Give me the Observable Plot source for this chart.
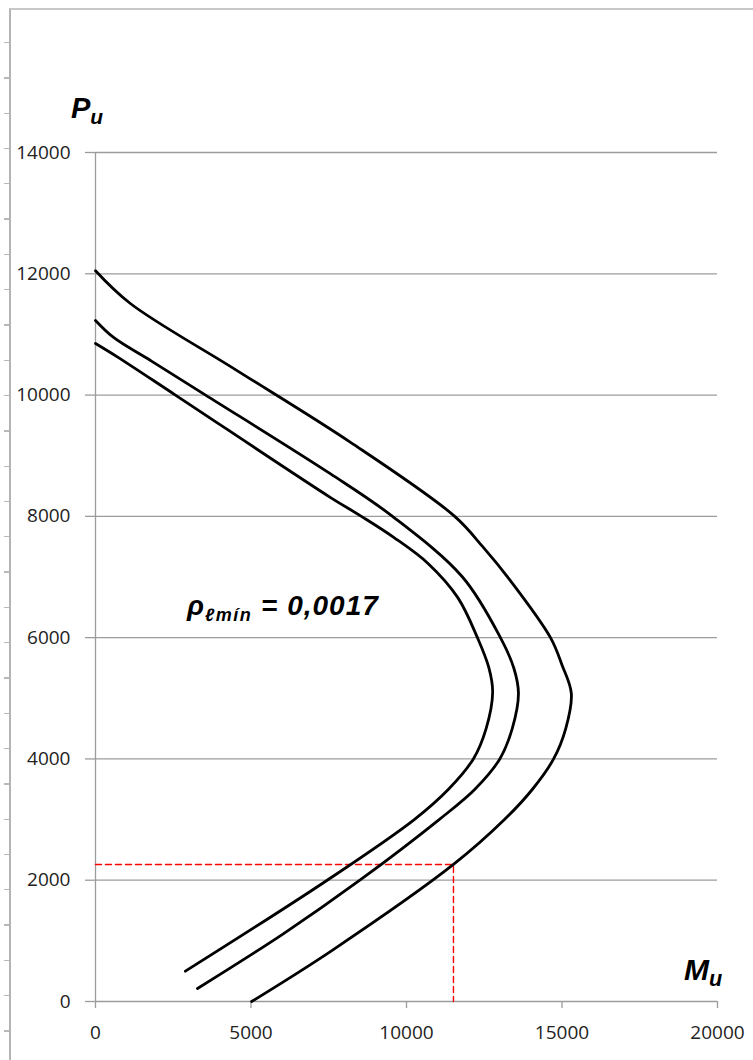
<!DOCTYPE html>
<html>
<head>
<meta charset="utf-8">
<script src="https://cdn.jsdelivr.net/npm/d3@7"></script>
<script src="https://cdn.jsdelivr.net/npm/@observablehq/plot@0.6"></script>
<style>
  html, body { margin: 0; padding: 0; background: #fff; }
  #wrap { position: relative; width: 753px; height: 1060px; overflow: hidden; background: #fff; }
  #border { position: absolute; left: 9px; top: 8px; right: -4px; bottom: -4px;
            border-left: 2px solid #b4b4b4; border-top: 2px solid #c8c8c8; }
  #rowticks { position: absolute; left: 4px; top: 8px; width: 5px; height: 1052px;
              background: repeating-linear-gradient(to bottom, transparent 0px, transparent 34px, #b8b8b8 34px, #b8b8b8 35.3px); }
  #chart { position: absolute; left: 0; top: 0; }
  .lbl { position: absolute; font-family: "Liberation Sans", Arial, sans-serif; font-weight: bold; font-style: italic; color: #000; white-space: nowrap; line-height: 1; }
  .lbl sub { font-size: 0.72em; vertical-align: -0.28em; }
</style>
</head>
<body>
<div id="wrap">
  <div id="rowticks"></div>
  <div id="border"></div>
  <div id="chart"></div>
  <div class="lbl" style="left:71px; top:94px; font-size:29px;">P<sub>u</sub></div>
  <div class="lbl" style="left:684px; top:955px; font-size:30px;">M<sub>u</sub></div>
  <div class="lbl" style="left:187px; top:592px; font-size:28px; letter-spacing:1px;">ρ<sub style="font-size:18px;vertical-align:-6px;letter-spacing:1.5px;">ℓmín</sub> = 0,0017</div>
</div>
<script>
// Axis ticks
const xTicks = [0, 5000, 10000, 15000, 20000];
const yTicks = [0, 2000, 4000, 6000, 8000, 10000, 12000, 14000];

// Outer curve (Mu, Pu)
const outerM = [0, 1120, 4500, 8200, 11550, 12450, 13340, 14630, 15000, 15300, 15120, 14730, 14050, 13150, 11510, 7600, 5020];
const outerP = [12050, 11510, 10420, 9220, 8000, 7500, 6940, 6000, 5550, 5080, 4500, 4000, 3500, 3000, 2260, 840, 0];

// Middle curve
const middleM = [0, 580, 1770, 3540, 7560, 9550, 11800, 13020, 13450, 13600, 13400, 13000, 12200, 11050, 8500, 6050, 3280];
const middleP = [11230, 10950, 10570, 10000, 8700, 8000, 7000, 6000, 5500, 5080, 4500, 4000, 3500, 3000, 2000, 1120, 215];

// Inner curve
const innerM = [0, 700, 2570, 7560, 8550, 9600, 10700, 11650, 12280, 12650, 12770, 12560, 12150, 11350, 10250, 7450, 2890];
const innerP = [10850, 10630, 10000, 8310, 8000, 7650, 7220, 6660, 6000, 5500, 5100, 4500, 4000, 3500, 3000, 2000, 500];

// Red dashed read-out
const readM = [0, 11510, 11510];
const readP = [2260, 2260, 0];

const toRows = (name, M, P) => M.map((m, i) => ({curve: name, M: m, P: P[i]}));
const curves = [
  ...toRows("outer", outerM, outerP),
  ...toRows("middle", middleM, middleP),
  ...toRows("inner", innerM, innerP)
];
const readout = toRows("read", readM, readP);

const gridColor = "#9c9c9c";
const fmt = d => String(d);

const chart = Plot.plot({
  width: 753,
  height: 1060,
  marginLeft: 95,
  marginRight: 36,
  marginTop: 152,
  marginBottom: 59,
  style: { fontFamily: "'Open Sans', sans-serif", fontSize: "19px", background: "transparent", overflow: "visible" },
  x: { domain: [0, 20000], label: null, axis: null },
  y: { domain: [0, 14000], label: null, axis: null },
  marks: [
    Plot.ruleY(yTicks, { stroke: gridColor, strokeWidth: 1.3 }),
    Plot.ruleX([0], { stroke: gridColor, strokeWidth: 1.3 }),
    Plot.axisX(xTicks, { tickSize: 7, tickPadding: 17, stroke: gridColor, strokeWidth: 1.3, fill: "#222", tickFormat: fmt, label: null }),
    Plot.axisY(yTicks, { tickSize: 10, tickPadding: 15, stroke: gridColor, strokeWidth: 1.3, fill: "#222", tickFormat: fmt, label: null }),
    Plot.line(readout, { x: "M", y: "P", stroke: "#ff0000", strokeWidth: 1.4, strokeDasharray: "6,4" }),
    Plot.line(curves, { x: "M", y: "P", z: "curve", curve: "catmull-rom", stroke: "#000", strokeWidth: 2.8 })
  ]
});
document.getElementById("chart").appendChild(chart);
</script>
</body>
</html>
